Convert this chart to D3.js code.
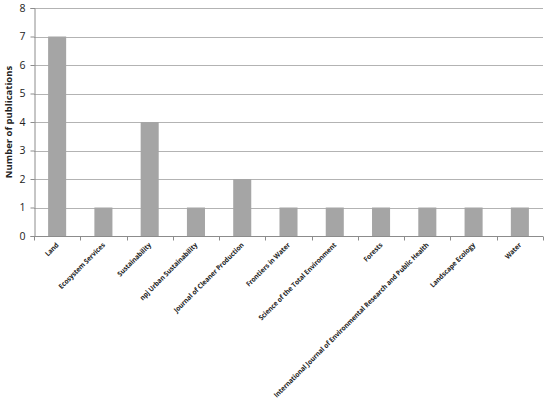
<!DOCTYPE html>
<html>
<head>
<meta charset="utf-8">
<script src="https://cdn.jsdelivr.net/npm/d3@7"></script>
<style>
  body { margin: 0; background: #fff; }
  text { font-family: "Open Sans", "Liberation Sans", sans-serif; }
</style>
</head>
<body>
<svg></svg>
<script>
const journals = [
    "Land",
    "Ecosystem Services",
    "Sustainability",
    "npj Urban Sustainability",
    "Journal of Cleaner Production",
    "Frontiers in Water",
    "Science of the Total Environment",
    "Forests",
    "International Journal of Environmental Research and Public Health",
    "Landscape Ecology",
    "Water"
];
const publications = [7, 1, 4, 1, 2, 1, 1, 1, 1, 1, 1];
const yTicks = [0, 1, 2, 3, 4, 5, 6, 7, 8];

const data = journals.map((j, i) => ({ journal: j, count: publications[i] }));

const width = 550;
const height = 405;
const margin = { top: 8, right: 7, bottom: 169, left: 34 };

const svg = d3.select("svg")
    .attr("width", width)
    .attr("height", height);

const x = d3.scaleBand()
    .domain(journals)
    .range([margin.left, width - margin.right])
    .paddingInner(0.61)
    .paddingOuter(0.305);

const y = d3.scaleLinear()
    .domain([0, 8])
    .range([height - margin.bottom, margin.top]);

// gridlines
svg.append("g")
    .selectAll("line")
    .data(yTicks.slice(1))
    .enter().append("line")
    .attr("x1", margin.left)
    .attr("x2", width - margin.right)
    .attr("y1", d => Math.round(y(d)) + 0.5)
    .attr("y2", d => Math.round(y(d)) + 0.5)
    .attr("stroke", "#b3b3b3")
    .attr("stroke-width", 1);

svg.append("g")
    .selectAll("rect")
    .data(data)
    .enter().append("rect")
    .attr("x", d => x(d.journal))
    .attr("y", d => y(d.count))
    .attr("height", d => y(0) - y(d.count))
    .attr("width", x.bandwidth())
    .attr("fill", "#a5a5a5");

// y axis
const yAxis = svg.append("g")
    .attr("transform", `translate(${margin.left + 0.5},0)`)
    .call(d3.axisLeft(y).tickValues(yTicks).tickSize(4).tickPadding(5));
yAxis.select(".domain").attr("stroke", "#8c8c8c");
yAxis.selectAll(".tick line").attr("stroke", "#8c8c8c");
yAxis.selectAll(".tick text")
    .attr("font-size", 10.5)
    .attr("fill", "#222");

// x axis: ticks at category boundaries
const step = x.step();
const xAxis = svg.append("g")
    .attr("transform", `translate(0,${Math.round(y(0)) + 0.5})`);
xAxis.append("line")
    .attr("x1", margin.left)
    .attr("x2", width - margin.right)
    .attr("stroke", "#8c8c8c");
xAxis.selectAll(".bound")
    .data(d3.range(journals.length + 1))
    .enter().append("line")
    .attr("class", "bound")
    .attr("x1", i => Math.round(margin.left + i * step) + 0.5)
    .attr("x2", i => Math.round(margin.left + i * step) + 0.5)
    .attr("y1", 0)
    .attr("y2", 4)
    .attr("stroke", "#8c8c8c");
const labels = xAxis.selectAll(".lab")
    .data(journals)
    .enter().append("text")
    .attr("class", "lab")
    .attr("text-anchor", "end")
    .attr("font-size", 7)
    .attr("font-weight", "bold")
    .attr("fill", "#222")
    .text(d => d);

// condense labels (the original uses a narrow font): longest label ~216px long
let longest = 0;
labels.each(function () { longest = Math.max(longest, this.getComputedTextLength()); });
const squeeze = Math.min(1, 216 / longest);
labels.attr("transform", d =>
    `translate(${x(d) + x.bandwidth() / 2 + 2},9) rotate(-45) scale(${squeeze},1)`);

// y axis title
svg.append("text")
    .attr("transform", `translate(12,${(y(0) + y(8)) / 2}) rotate(-90)`)
    .attr("text-anchor", "middle")
    .attr("font-size", 9.5)
    .attr("font-weight", "bold")
    .attr("fill", "#222")
    .text("Number of publications");
</script>
</body>
</html>
